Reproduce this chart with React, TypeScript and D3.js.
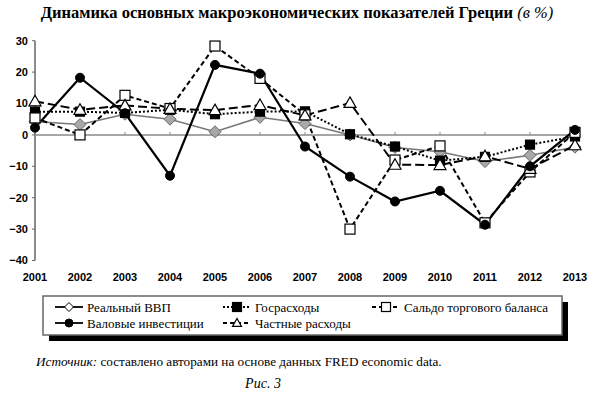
import React from 'react';
import * as d3 from 'd3';

const years = ['2001', '2002', '2003', '2004', '2005', '2006', '2007', '2008', '2009', '2010', '2011', '2012', '2013'];
const yTicks = [30, 20, 10, 0, -10, -20, -30, -40];

// значения в %
const gdp = [4.3, 3.3, 6.6, 5.0, 1.0, 5.6, 3.6, 0.0, -4.0, -5.4, -8.5, -6.5, -3.9];
const gov = [7.4, 7.4, 7.0, 8.0, 6.6, 7.4, 7.5, 0.2, -3.7, -8.2, -7.0, -3.1, -0.5];
const trade = [5.4, 0.0, 12.6, 8.4, 28.3, 18.0, 6.4, -30.0, -8.0, -3.5, -28.0, -11.8, 0.8];
const invest = [2.3, 18.2, 6.9, -13.0, 22.3, 19.5, -3.7, -13.3, -21.2, -17.8, -28.6, -10.0, 1.6];
const priv = [10.7, 8.0, 9.4, 8.3, 7.9, 9.5, 6.2, 10.2, -9.5, -9.6, -6.8, -10.8, -3.3];

const legendNames = ['Реальный ВВП', 'Валовые инвестиции', 'Госрасходы', 'Частные расходы', 'Сальдо торгового баланса'];

type Marker = 'diamond' | 'square' | 'circle' | 'triangle';

interface Series {
  name: string;
  values: number[];
  stroke: string;
  width: number;
  dash?: string;
  marker: Marker;
  fill: string;
  mstroke: string;
  size: number;
}

const series: Series[] = [
  { name: legendNames[0], values: gdp, stroke: '#777', width: 1.5, marker: 'diamond', fill: '#a8a8a8', mstroke: '#666', size: 6 },
  { name: legendNames[2], values: gov, stroke: '#000', width: 2, dash: '2,2', marker: 'square', fill: '#000', mstroke: '#000', size: 4.5 },
  { name: legendNames[4], values: trade, stroke: '#000', width: 2, dash: '5,3', marker: 'square', fill: '#fff', mstroke: '#000', size: 5 },
  { name: legendNames[3], values: priv, stroke: '#000', width: 2, dash: '9,4', marker: 'triangle', fill: '#fff', mstroke: '#000', size: 6 },
  { name: legendNames[1], values: invest, stroke: '#000', width: 2.2, marker: 'circle', fill: '#000', mstroke: '#000', size: 4.5 },
];

function MarkerShape({ m, x, y, s, fill, stroke }: { m: Marker; x: number; y: number; s: number; fill: string; stroke: string }) {
  if (m === 'circle') return <circle cx={x} cy={y} r={s} fill={fill} stroke={stroke} strokeWidth={1} />;
  if (m === 'square') return <rect x={x - s} y={y - s} width={2 * s} height={2 * s} fill={fill} stroke={stroke} strokeWidth={1.2} />;
  if (m === 'diamond')
    return <path d={`M${x},${y - s}L${x + s},${y}L${x},${y + s}L${x - s},${y}Z`} fill={fill} stroke={stroke} strokeWidth={1} />;
  return <path d={`M${x},${y - s}L${x + s},${y + s * 0.75}L${x - s},${y + s * 0.75}Z`} fill={fill} stroke={stroke} strokeWidth={1.2} />;
}

export default function App() {
  const W = 595;
  const H = 399;
  const x = d3.scalePoint<string>().domain(years).range([35, 575]);
  const y = d3.scaleLinear().domain([-40, 30]).range([260.5, 40.7]);
  const line = d3.line<number>().x((_, i) => x(years[i])!).y((v) => y(v));

  const serif = "'Liberation Serif', 'DejaVu Serif', serif";
  const sans = "'Liberation Sans', Arial, sans-serif";

  // легенда: [индекс в legendNames, колонка, строка]
  const legendPos: [number, number, number][] = [
    [0, 0, 0],
    [1, 0, 1],
    [2, 1, 0],
    [3, 1, 1],
    [4, 2, 0],
  ];
  const colX = [55, 223, 372];
  const rowY = [307, 323];

  return (
    <svg width={W} height={H} style={{ position: 'absolute', left: 0, top: 0, background: '#fff' }}>
      <text x={297} y={18} textAnchor="middle" fontFamily={serif} fontSize={16.5}>
        <tspan fontWeight="bold">Динамика основных макроэкономических показателей Греции</tspan>
        <tspan fontStyle="italic"> (в %)</tspan>
      </text>

      {/* оси */}
      <line x1={35} x2={35} y1={y(30)} y2={y(-40)} stroke="#666" strokeWidth={1.5} />
      {yTicks.map((t) => (
        <g key={t}>
          <line x1={32} x2={35} y1={y(t)} y2={y(t)} stroke="#666" />
          <text x={28} y={y(t)} dy="0.35em" textAnchor="end" fontFamily={sans} fontWeight="bold" fontSize={11}>
            {t < 0 ? '\u2212' + Math.abs(t) : t}
          </text>
        </g>
      ))}
      <line x1={35} x2={575} y1={y(0)} y2={y(0)} stroke="#888" strokeWidth={1.5} />
      {years.map((yr) => (
        <g key={yr}>
          <line x1={x(yr)} x2={x(yr)} y1={y(0)} y2={y(0) - 3} stroke="#888" />
          <text x={x(yr)} y={281} textAnchor="middle" fontFamily={sans} fontWeight="bold" fontSize={11}>
            {yr}
          </text>
        </g>
      ))}

      {series.map((s) => (
        <path key={s.name} d={line(s.values)!} fill="none" stroke={s.stroke} strokeWidth={s.width} strokeDasharray={s.dash} />
      ))}
      {series.map((s) => (
        <g key={s.name + 'm'}>
          {s.values.map((v, i) => (
            <MarkerShape key={i} m={s.marker} x={x(years[i])!} y={y(v)} s={s.size} fill={s.fill} stroke={s.mstroke} />
          ))}
        </g>
      ))}

      {/* легенда */}
      <rect x={49} y={302} width={519} height={39} fill="#000" />
      <rect x={43} y={296} width={519} height={39} fill="#fff" stroke="#666" strokeWidth={1.5} />
      {legendPos.map(([si, c, r]) => {
        const s = series.find((q) => q.name === legendNames[si])!;
        const lx = colX[c];
        const ly = rowY[r];
        return (
          <g key={si}>
            <line x1={lx} x2={lx + 28} y1={ly} y2={ly} stroke="#000" strokeWidth={1.8} strokeDasharray={s.dash ? (s.dash === '2,2' ? '2,2' : '4,3') : undefined} />
            <MarkerShape m={s.marker} x={lx + 14} y={ly} s={s.marker === 'circle' ? 4 : 4.5} fill={s.marker === 'diamond' ? '#fff' : s.fill} stroke="#000" />
            <text x={lx + 32} y={ly} dy="0.35em" fontFamily={serif} fontSize={13}>
              {s.name}
            </text>
          </g>
        );
      })}

      <text x={36} y={366} fontFamily={serif} fontSize={13.2}>
        <tspan fontStyle="italic">Источник:</tspan> составлено авторами на основе данных FRED economic data.
      </text>
      <text x={263} y={388} textAnchor="middle" fontFamily={serif} fontStyle="italic" fontSize={14}>
        Рис. 3
      </text>
    </svg>
  );
}
